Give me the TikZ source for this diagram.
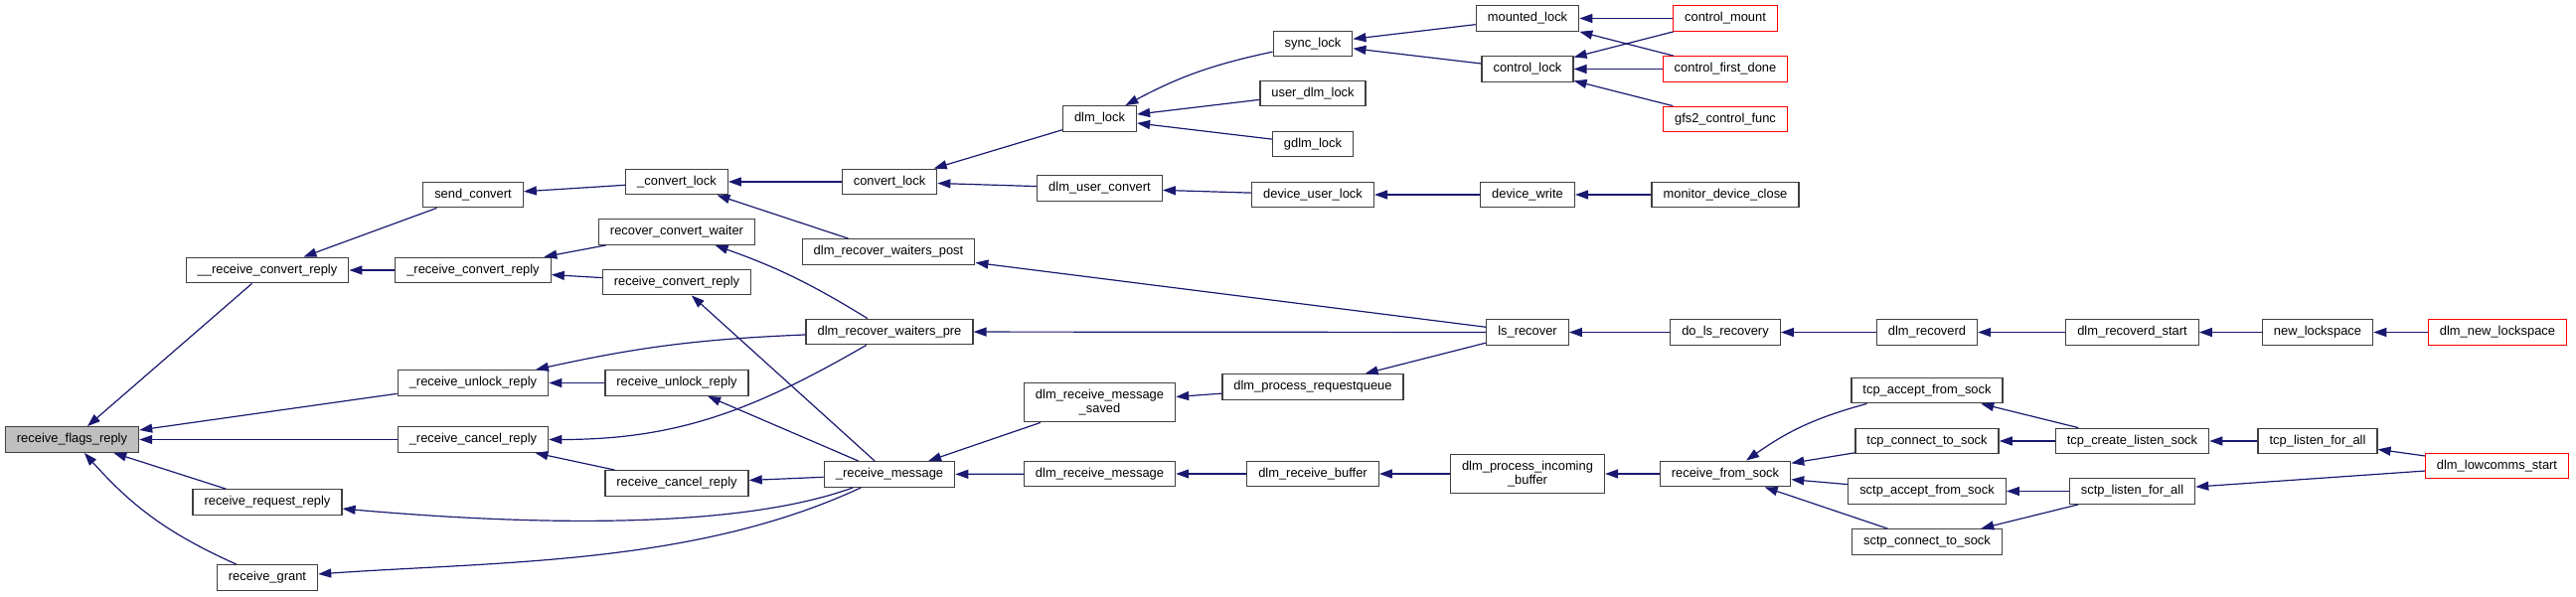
\documentclass[tikz,border=0pt]{standalone}
\usepackage{fontspec}
\setmainfont{Liberation Sans}
\usetikzlibrary{arrows.meta}
\definecolor{edgeblue}{RGB}{25,25,112}
\definecolor{boxline}{RGB}{64,64,64}
\definecolor{rootfill}{RGB}{191,191,191}
\definecolor{cutred}{RGB}{255,0,0}
\tikzset{
    fnode/.style={
        rectangle,
        draw=boxline,
        line width=1.3pt,
        fill=white,
        font=\fontsize{12.9}{14.7}\selectfont,
        inner xsep=11.5pt,
        inner ysep=6.5pt,
        minimum height=25.5pt,
        align=center
    },
    rootnode/.style={fnode, fill=rootfill},
    trunc/.style={fnode, draw=cutred},
    calls/.style={
        -{Triangle[length=13pt,width=9pt]},
        draw=edgeblue,
        line width=1.2pt
    }
}

\begin{document}
\begin{tikzpicture}[x=1pt, y=1pt]
\useasboundingbox (0,0) rectangle (2592,-600);

% columns, left to right
\node[rootnode] (rfr) at (72.5,-442.5) {receive\_flags\_reply};

\node[fnode] (rcr2) at (269,-272) {\_\_receive\_convert\_reply};
\node[fnode] (rrr) at (269,-505.5) {receive\_request\_reply};
\node[fnode] (rg) at (269,-581.5) {receive\_grant};

\node[fnode] (sc) at (476,-196) {send\_convert};
\node[fnode] (rcr1) at (476,-272) {\_receive\_convert\_reply};
\node[fnode] (rur1) at (476,-385.5) {\_receive\_unlock\_reply};
\node[fnode] (rcl1) at (476,-442.5) {\_receive\_cancel\_reply};

\node[fnode] (cl1) at (681,-183) {\_convert\_lock};
\node[fnode] (rcw) at (681,-233.5) {recover\_convert\_waiter};
\node[fnode] (rcvc) at (681,-284) {receive\_convert\_reply};
\node[fnode] (rur) at (681,-385.5) {receive\_unlock\_reply};
\node[fnode] (rcl) at (681,-486.5) {receive\_cancel\_reply};

\node[fnode] (cvl) at (895,-183) {convert\_lock};
\node[fnode] (drwpost) at (894,-253.5) {dlm\_recover\_waiters\_post};
\node[fnode] (drwpre) at (895,-334) {dlm\_recover\_waiters\_pre};
\node[fnode] (rm) at (895,-477.5) {\_receive\_message};

\node[fnode] (dlmlock) at (1106.5,-119.5) {dlm\_lock};
\node[fnode] (duc) at (1106.5,-189.5) {dlm\_user\_convert};
\node[fnode] (drms) at (1106.5,-405) {dlm\_receive\_message\\\_saved};
\node[fnode] (drm) at (1106.5,-477) {dlm\_receive\_message};

\node[fnode] (syl) at (1321,-44) {sync\_lock};
\node[fnode] (udl) at (1321,-94) {user\_dlm\_lock};
\node[fnode] (gdl) at (1321,-145) {gdlm\_lock};
\node[fnode] (dul) at (1321,-196) {device\_user\_lock};
\node[fnode] (dprq) at (1321,-389.5) {dlm\_process\_requestqueue};
\node[fnode] (drb) at (1321,-477) {dlm\_receive\_buffer};

\node[fnode] (mtl) at (1537,-18.5) {mounted\_lock};
\node[fnode] (ctl) at (1537,-69.5) {control\_lock};
\node[fnode] (dvw) at (1537,-196) {device\_write};
\node[fnode] (lsr) at (1537,-334.5) {ls\_recover};
\node[fnode] (dpib) at (1537,-477) {dlm\_process\_incoming\\\_buffer};

\node[trunc] (cmnt) at (1736,-18.5) {control\_mount};
\node[trunc] (cfd) at (1736,-69.5) {control\_first\_done};
\node[trunc] (gcf) at (1736,-120) {gfs2\_control\_func};
\node[fnode] (mdc) at (1736,-196) {monitor\_device\_close};
\node[fnode] (dlsr) at (1736,-334.5) {do\_ls\_recovery};
\node[fnode] (rfs) at (1736,-477) {receive\_from\_sock};

\node[fnode] (rcd) at (1939,-334.5) {dlm\_recoverd};
\node[fnode] (tafs) at (1939,-393) {tcp\_accept\_from\_sock};
\node[fnode] (tcts) at (1939,-444) {tcp\_connect\_to\_sock};
\node[fnode] (safs) at (1939,-494.5) {sctp\_accept\_from\_sock};
\node[fnode] (scts) at (1939,-545.5) {sctp\_connect\_to\_sock};

\node[fnode] (rcds) at (2145.5,-334.5) {dlm\_recoverd\_start};
\node[fnode] (tcls) at (2145.5,-444) {tcp\_create\_listen\_sock};
\node[fnode] (slfa) at (2145.5,-494.5) {sctp\_listen\_for\_all};

\node[fnode] (nls) at (2332,-334.5) {new\_lockspace};
\node[fnode] (tlfa) at (2332,-444) {tcp\_listen\_for\_all};

\node[trunc] (dnls) at (2513,-334.5) {dlm\_new\_lockspace};
\node[trunc] (dlcs) at (2512.5,-469) {dlm\_lowcomms\_start};

% callers into receive_flags_reply
\draw[calls] (rcr2) -- (rfr);
\draw[calls] (rur1) -- (rfr);
\draw[calls] (rcl1) -- (rfr);
\draw[calls] (rrr) -- (rfr);
\draw[calls] (rg) to[bend left=12] (rfr);

\draw[calls] (sc) -- (rcr2);
\draw[calls] (rcr1) -- (rcr2);
\draw[calls] (cl1) -- (sc);
\draw[calls] (rcw) -- (rcr1);
\draw[calls] (rcvc) -- (rcr1);
\draw[calls] (drwpre) to[bend right=5] (rur1);
\draw[calls] (rur) -- (rur1);
\draw[calls] (drwpre) to[out=210, in=0] (rcl1);
\draw[calls] (rcl) -- (rcl1);
\draw[calls] (rm) to[out=200, in=-5, looseness=0.7] (rrr);
\draw[calls] (rm) to[out=205, in=4, looseness=0.85] (rg);

\draw[calls] (cvl) -- (cl1);
\draw[calls] (drwpost) -- (cl1);
\draw[calls] (drwpre) to[bend right=6] (rcw);
\draw[calls] (rm) -- (rcvc);
\draw[calls] (rm) -- (rur);
\draw[calls] (rm) -- (rcl);

\draw[calls] (dlmlock) -- (cvl);
\draw[calls] (duc) -- (cvl);
\draw[calls] (lsr) -- (drwpost);
\draw[calls] (lsr) -- (drwpre);
\draw[calls] (drms) -- (rm);
\draw[calls] (drm) -- (rm);

\draw[calls] (syl) to[bend right=8] (dlmlock);
\draw[calls] (udl) -- (dlmlock);
\draw[calls] (gdl) -- (dlmlock);
\draw[calls] (dul) -- (duc);
\draw[calls] (dprq) -- (drms);
\draw[calls] (drb) -- (drm);

\draw[calls] (mtl) -- (syl);
\draw[calls] (ctl) -- (syl);
\draw[calls] (dvw) -- (dul);
\draw[calls] (lsr) -- (dprq);
\draw[calls] (dpib) -- (drb);

\draw[calls] (cmnt) -- (mtl);
\draw[calls] (cfd) -- (mtl);
\draw[calls] (cmnt) -- (ctl);
\draw[calls] (cfd) -- (ctl);
\draw[calls] (gcf) -- (ctl);
\draw[calls] (mdc) -- (dvw);
\draw[calls] (dlsr) -- (lsr);
\draw[calls] (rfs) -- (dpib);

\draw[calls] (rcd) -- (dlsr);
\draw[calls] (tafs) to[bend right=10] (rfs);
\draw[calls] (tcts) -- (rfs);
\draw[calls] (safs) -- (rfs);
\draw[calls] (scts) -- (rfs);

\draw[calls] (rcds) -- (rcd);
\draw[calls] (tcls) -- (tafs);
\draw[calls] (tcls) -- (tcts);
\draw[calls] (slfa) -- (safs);
\draw[calls] (slfa) -- (scts);

\draw[calls] (nls) -- (rcds);
\draw[calls] (tlfa) -- (tcls);
\draw[calls] (dnls) -- (nls);
\draw[calls] (dlcs) -- (tlfa);
\draw[calls] (dlcs) -- (slfa);
\end{tikzpicture}
\end{document}
